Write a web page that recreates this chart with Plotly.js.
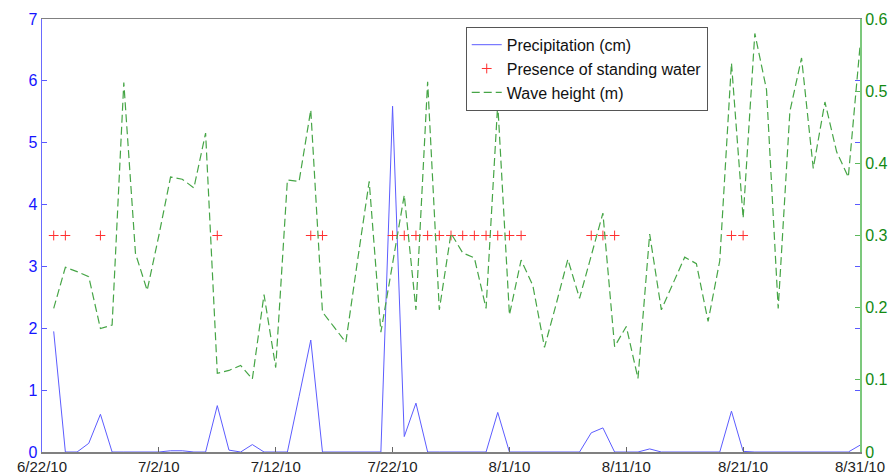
<!DOCTYPE html>
<html>
<head>
<meta charset="utf-8">
<script src="https://cdn.plot.ly/plotly-3.0.1.min.js"></script>
<style>html,body{margin:0;padding:0;background:#fff;}#chart{width:890px;height:474px;}</style>
</head>
<body>
<div id="chart"></div>
<script>
var dates = [
 '2010-06-23','2010-06-24','2010-06-25','2010-06-26','2010-06-27','2010-06-28','2010-06-29','2010-06-30',
 '2010-07-01','2010-07-02','2010-07-03','2010-07-04','2010-07-05','2010-07-06','2010-07-07','2010-07-08',
 '2010-07-09','2010-07-10','2010-07-11','2010-07-12','2010-07-13','2010-07-14','2010-07-15','2010-07-16',
 '2010-07-17','2010-07-18','2010-07-19','2010-07-20','2010-07-21','2010-07-22','2010-07-23','2010-07-24',
 '2010-07-25','2010-07-26','2010-07-27','2010-07-28','2010-07-29','2010-07-30','2010-07-31',
 '2010-08-01','2010-08-02','2010-08-03','2010-08-04','2010-08-05','2010-08-06','2010-08-07','2010-08-08',
 '2010-08-09','2010-08-10','2010-08-11','2010-08-12','2010-08-13','2010-08-14','2010-08-15','2010-08-16',
 '2010-08-17','2010-08-18','2010-08-19','2010-08-20','2010-08-21','2010-08-22','2010-08-23','2010-08-24',
 '2010-08-25','2010-08-26','2010-08-27','2010-08-28','2010-08-29','2010-08-30','2010-08-31'
];
var precipitation = [
 1.95,0,0,0.14,0.61,0,0,0,
 0,0,0.02,0.02,0,0,0.75,0.03,
 0,0.12,0,0,0,0.9,1.81,0,
 0,0,0,0,0,5.59,0.25,0.79,
 0,0,0,0,0,0,0.64,
 0,0,0,0,0,0,0,0.31,
 0.39,0,0,0,0.05,0,0,0,
 0,0,0,0.66,0.01,0,0,0,
 0,0,0,0,0,0,0.11
];
var waveHeight = [
 0.199,0.256,0.250,0.243,0.171,0.176,0.512,0.275,
 0.224,0.300,0.381,0.378,0.366,0.442,0.109,0.113,
 0.120,0.101,0.218,0.117,0.377,0.375,0.474,0.194,
 0.173,0.152,0.265,0.375,0.166,0.261,0.356,0.197,
 0.513,0.197,0.303,0.276,0.269,0.199,0.483,
 0.190,0.266,0.231,0.145,0.205,0.267,0.213,0.272,
 0.331,0.146,0.174,0.102,0.302,0.197,0.233,0.270,
 0.261,0.181,0.265,0.539,0.324,0.580,0.502,0.199,
 0.472,0.546,0.393,0.485,0.416,0.381,0.562
];
var standingDates = [
 '2010-06-23','2010-06-24','2010-06-27','2010-07-07','2010-07-15','2010-07-16',
 '2010-07-22','2010-07-23','2010-07-24','2010-07-25','2010-07-26','2010-07-27',
 '2010-07-28','2010-07-29','2010-07-30','2010-07-31','2010-08-01','2010-08-02',
 '2010-08-08','2010-08-09','2010-08-10','2010-08-20','2010-08-21'
];
var standingLevel = standingDates.map(function(){ return 3.5; });
var xTickVals = ['2010-06-22','2010-07-02','2010-07-12','2010-07-22','2010-08-01','2010-08-11','2010-08-21','2010-08-31'];
var xTickText = ['6/22/10','7/2/10','7/12/10','7/22/10','8/1/10','8/11/10','8/21/10','8/31/10'];

var font = 'Liberation Sans, Arial, sans-serif';
var traces = [
 {x: dates, y: precipitation, type: 'scatter', mode: 'lines', name: 'Precipitation (cm)',
  line: {color: '#5c5cff', width: 1}, yaxis: 'y'},
 {x: standingDates, y: standingLevel, type: 'scatter', mode: 'markers', name: 'Presence of standing water',
  marker: {symbol: 'cross-thin', size: 7, line: {color: '#ff3030', width: 1}, color: '#ff3030'}, yaxis: 'y'},
 {x: dates, y: waveHeight, type: 'scatter', mode: 'lines', name: 'Wave height (m)',
  line: {color: '#46a546', width: 1.2, dash: '8px,4px'}, yaxis: 'y2'}
];
var layout = {
 width: 890, height: 474,
 margin: {l: 42, r: 30, t: 19, b: 22},
 paper_bgcolor: '#fff', plot_bgcolor: '#fff',
 showlegend: true,
 font: {family: font, size: 16, color: '#222'},
 xaxis: {type: 'date', range: ['2010-06-22','2010-08-31'], tickvals: xTickVals, ticktext: xTickText,
  ticks: 'inside', ticklen: 5, tickcolor: '#666', showgrid: false, zeroline: false,
  showline: true, linecolor: '#808080', linewidth: 1.5, mirror: true,
  tickfont: {family: font, size: 15, color: '#222'}},
 yaxis: {range: [0, 7], dtick: 1, ticks: 'inside', ticklen: 5, tickcolor: '#5a5aff',
  showline: true, linecolor: '#6a6aff', linewidth: 1.5, mirror: 'ticks', showgrid: false, zeroline: false,
  tickfont: {family: font, size: 16, color: '#1515ff'}},
 yaxis2: {range: [0, 0.6], dtick: 0.1, overlaying: 'y', side: 'right', ticks: 'inside', ticklen: 5,
  tickcolor: '#5cb85c', showline: true, linecolor: '#7cc87c', linewidth: 2, showgrid: false, zeroline: false,
  tickfont: {family: font, size: 16, color: '#138a13'}},
 legend: {x: 0.518, y: 0.982, xanchor: 'left', yanchor: 'top', bgcolor: '#fff',
  bordercolor: '#555', borderwidth: 1, font: {family: font, size: 16, color: '#111'},
  itemwidth: 30, tracegroupgap: 0}
};
Plotly.newPlot('chart', traces, layout, {displayModeBar: false, staticPlot: true});
</script>
</body>
</html>
